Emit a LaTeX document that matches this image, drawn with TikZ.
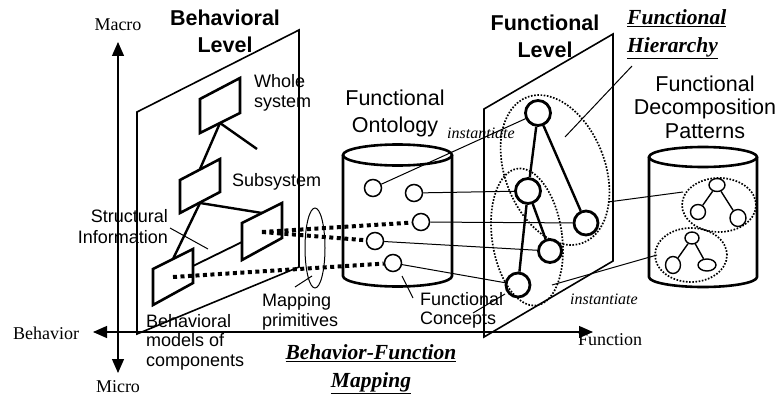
\documentclass[tikz,border=0pt]{standalone}
\usepackage{fontspec}
\setmainfont{Liberation Serif}
\setsansfont{Liberation Sans}
\usetikzlibrary{arrows.meta,shapes.geometric}
\begin{document}
\begin{tikzpicture}[x=1pt,y=-1pt,
  planeline/.style={line width=1.6pt, line join=miter},
  bbox/.style={line width=2.6pt, line join=miter},
  conn/.style={line width=2.4pt},
  thinl/.style={line width=1pt},
  medl/.style={line width=1.8pt},
  mapdot/.style={line width=4pt, dash pattern=on 4pt off 3.5pt},
  dotell/.style={line width=1.7pt, dash pattern=on 1.6pt off 1.6pt},
  cylline/.style={line width=2.6pt},
  ocirc/.style={circle, draw, line width=1.5pt, minimum size=17pt, inner sep=0pt},
  fcirc/.style={circle, draw, line width=2.8pt, minimum size=25pt, inner sep=0pt},
  tnode/.style={ellipse, draw, line width=1.4pt, inner sep=0pt},
  axisarrow/.style={line width=1.2pt, {Triangle[length=14pt,width=12pt]}-{Triangle[length=14pt,width=12pt]}},
  titletext/.style={font=\sffamily\bfseries\fontsize{21.5}{27}\selectfont, align=center, inner sep=0pt},
  bigtext/.style={font=\sffamily\fontsize{21.5}{27}\selectfont, align=center, inner sep=0pt},
  labtext/.style={font=\sffamily\fontsize{18}{19.5}\selectfont, inner sep=0pt},
  sertext/.style={font=\fontsize{18}{20}\selectfont, inner sep=0pt},
  insttext/.style={font=\itshape\fontsize{16}{18}\selectfont, inner sep=0pt},
  emphtext/.style={font=\bfseries\itshape\fontsize{21.5}{28}\selectfont, inner sep=0pt}
]
\useasboundingbox (0,0) rectangle (779,396);

% ---------- axes ----------
\coordinate (vtop) at (118,42);
\coordinate (vbot) at (118,373);
\coordinate (hl) at (93,332);
\coordinate (hr) at (593,332);
\draw[axisarrow] (vbot) -- (vtop);
\draw[axisarrow] (hl) -- (hr);
\node[sertext] (macro) at (118,25) {Macro};
\node[sertext] (micro) at (118,387) {Micro};
\node[sertext, anchor=west] (behav) at (13,333) {Behavior};
\node[sertext, anchor=west] (func) at (578,340) {Function};

% ---------- behavioral level plane ----------
\draw[planeline] (137,112) -- (299,30) -- (299,267) -- (137,334) -- cycle;
\node[titletext] (bltitle) at (225,31) {Behavioral\\Level};

% boxes
\draw[bbox] (200,99) -- (240,78) -- (240,113) -- (200,133) -- cycle;
\draw[bbox] (180,180) -- (220,159) -- (220,192) -- (180,213) -- cycle;
\draw[bbox] (242,223) -- (282,203) -- (282,238) -- (242,260) -- cycle;
\draw[bbox] (153,269) -- (193,249) -- (193,283) -- (153,305) -- cycle;
\coordinate (b1b) at (220,123);
\coordinate (b1free) at (257,149);
\coordinate (b2t) at (200,169);
\coordinate (b2b) at (200,203);
\coordinate (b3t) at (262,213);
\coordinate (b3l) at (242,242);
\coordinate (b4t) at (173,259);
\coordinate (b4r) at (193,266);
\coordinate (b3m) at (262,232);
\coordinate (b4m) at (173,277);
\draw[conn] (b1b) -- (b1free);
\draw[conn] (b1b) -- (b2t);
\draw[conn] (b2b) -- (b3t);
\draw[conn] (b2b) -- (b4t);
\draw[medl] (b4r) -- (b3l);

\node[labtext, anchor=west, align=left] (whole) at (254,93) {Whole\\system};
\node[labtext, anchor=west] (subsys) at (232,182) {Subsystem};
\node[labtext, anchor=east, align=right, font=\sffamily\fontsize{18}{21}\selectfont] (struct) at (168,226.5) {Structural\\Information};
\coordinate (structa) at (170,228);
\coordinate (structb) at (208,249);
\draw[thinl] (structa) -- (structb);
\node[labtext, anchor=west, align=left] (models) at (146,342) {Behavioral\\models of\\components};

% mapping primitives
\draw[thinl] (315,248) ellipse [x radius=10pt, y radius=40pt];
\coordinate (mapa) at (312,276);
\coordinate (mapb) at (295,287);
\draw[thinl] (mapa) -- (mapb);
\node[labtext, anchor=west, align=left, font=\sffamily\fontsize{18}{20}\selectfont] (mapping) at (262,312) {Mapping\\primitives};

% ---------- functional ontology cylinder ----------
\draw[cylline] (343,155) -- ++(0,121) arc[start angle=180, end angle=360, x radius=54.5pt, y radius=10.5pt] -- ++(0,-121);
\draw[cylline] (397.5,155) ellipse [x radius=54.5pt, y radius=10.5pt];
\node[bigtext] (onto) at (395,113) {Functional\\Ontology};
\node[ocirc] (c1) at (373,188) {};
\node[ocirc] (c2) at (414,193) {};
\node[ocirc] (c3) at (421,222) {};
\node[ocirc] (c4) at (375,241) {};
\node[ocirc] (c5) at (393,263) {};

% mapping dotted lines
\draw[mapdot] (b3m) -- (c3);
\draw[mapdot] (b3m) -- (c4);
\draw[mapdot] (b4m) -- (c5);

% ---------- functional level plane ----------
\draw[planeline] (484,109) -- (613,34) -- (613,261) -- (484,337) -- cycle;
\node[titletext] (fltitle) at (545,36) {Functional\\Level};

\draw[dotell, rotate around={21:(555,170)}] (555,170) ellipse [x radius=50pt, y radius=78pt];
\draw[dotell, rotate around={8:(527,237)}] (527,237) ellipse [x radius=35pt, y radius=69pt];

\node[fcirc] (F1) at (538,113) {};
\node[fcirc] (F2) at (528,191) {};
\node[fcirc, minimum size=24pt] (F3) at (586,223) {};
\node[fcirc, minimum size=23pt] (F4) at (550,251) {};
\node[fcirc, minimum size=24pt] (F5) at (518,285) {};
\draw[conn] (F1) -- (F2);
\draw[conn] (F1) -- (F3);
\draw[conn] (F2) -- (F4);
\draw[conn] (F2) -- (F5);

% ontology -> functional level
\draw[thinl] (c1) -- (F1);
\draw[thinl] (c2) -- (F2);
\draw[thinl] (c3) -- (F3);
\draw[thinl] (c4) -- (F4);
\draw[thinl] (c5) -- (F5);
\node[insttext] (inst1) at (481,133) {instantiate};

% functional concepts
\node[labtext, anchor=west, align=left, font=\sffamily\fontsize{18}{19}\selectfont] (fconc) at (420,310) {Functional\\Concepts};
\coordinate (fca) at (402,276);
\coordinate (fcb) at (413,298);
\coordinate (fcc) at (473,313);
\coordinate (fcd) at (505,294);
\draw[thinl] (fca) -- (fcb);
\draw[thinl] (fcc) -- (fcd);

% functional hierarchy
\node[emphtext, anchor=west, align=left] (fhier) at (627,34) {\underline{Functional}\\\underline{Hierarchy}};
\coordinate (fha) at (632,66);
\coordinate (fhb) at (565,137);
\draw[thinl] (fha) -- (fhb);

% ---------- decomposition patterns cylinder ----------
\draw[cylline] (649,157) -- ++(0,120) arc[start angle=180, end angle=360, x radius=54pt, y radius=10pt] -- ++(0,-120);
\draw[cylline] (703,157) ellipse [x radius=54pt, y radius=10pt];
\node[bigtext, font=\sffamily\fontsize{21.5}{23.5}\selectfont] (decomp) at (705,107) {Functional\\Decomposition\\Patterns};

\draw[dotell] (719,205) ellipse [x radius=37pt, y radius=27pt];
\draw[dotell] (691,255) ellipse [x radius=36pt, y radius=27pt];

\node[tnode, minimum width=16pt, minimum height=13pt] (p1t) at (717,185) {};
\node[tnode, minimum width=15pt, minimum height=15pt] (p1l) at (698,212) {};
\node[tnode, minimum width=16pt, minimum height=17pt] (p1r) at (738,218) {};
\draw[line width=1.4pt] (p1t) -- (p1l);
\draw[line width=1.4pt] (p1t) -- (p1r);
\node[tnode, minimum width=14pt, minimum height=12pt] (p2t) at (692,238) {};
\node[tnode, minimum width=15pt, minimum height=17pt] (p2l) at (673,265) {};
\node[tnode, minimum width=18pt, minimum height=12pt] (p2r) at (707,265) {};
\draw[line width=1.4pt] (p2t) -- (p2l);
\draw[line width=1.4pt] (p2t) -- (p2r);

% hierarchy -> patterns
\coordinate (e1r) at (608,202);
\coordinate (p1w) at (683,192);
\coordinate (e2r) at (552,285);
\coordinate (p2w) at (657,255);
\draw[thinl] (e1r) -- (p1w);
\draw[thinl] (e2r) -- (p2w);
\node[insttext] (inst2) at (604,299) {instantiate};

% ---------- behavior-function mapping ----------
\node[emphtext, align=center] (bfmap) at (371,369) {\underline{Behavior-Function}\\\underline{Mapping}};
\end{tikzpicture}
\end{document}
